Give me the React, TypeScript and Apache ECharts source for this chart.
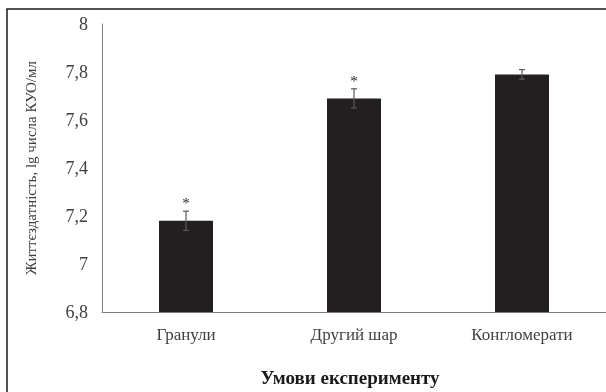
import React, { useEffect, useRef } from "react";
import * as echarts from "echarts";

const categories = ["Гранули", "Другий шар", "Конгломерати"];
const values = [7.18, 7.69, 7.79];
const errors = [0.04, 0.04, 0.02];
const significant = [true, true, false];
const yTicks = [6.8, 7.0, 7.2, 7.4, 7.6, 7.8, 8.0];

const FONT = "serif";

export default function App() {
  const ref = useRef<HTMLDivElement>(null);
  useEffect(() => {
    if (!ref.current) return;
    const chart = echarts.init(ref.current, undefined, { renderer: "svg" });
    const errData = values.map((v, i) => [i, v - errors[i], v + errors[i]]);
    const starData = values
      .map((v, i) => [i, v + errors[i]])
      .filter((_, i) => significant[i]);
    chart.setOption({
      animation: false,
      graphic: [
        {
          type: "rect",
          shape: { x: 7, y: 9, width: 700, height: 500 },
          style: { fill: "none", stroke: "#1a1a1a", lineWidth: 1.5 },
          z: 100,
        },
      ],
      grid: { left: 102, right: -6, top: 24, bottom: 79 },
      xAxis: {
        type: "category",
        data: categories,
        axisLine: { lineStyle: { color: "#7f7f7f", width: 1 } },
        axisTick: { show: false },
        axisLabel: { color: "#404040", fontFamily: FONT, fontSize: 17, margin: 14 },
        name: "Умови експерименту",
        nameLocation: "middle",
        nameGap: 56,
        nameTextStyle: { color: "#1a1a1a", fontFamily: FONT, fontSize: 19, fontWeight: "bold", padding: [0, 0, 0, -8] },
      },
      yAxis: {
        type: "value",
        min: yTicks[0],
        max: yTicks[yTicks.length - 1],
        interval: 0.2,
        axisLine: { show: true, lineStyle: { color: "#7f7f7f", width: 1 } },
        axisTick: { show: false },
        splitLine: { show: false },
        axisLabel: {
          color: "#404040",
          fontFamily: FONT,
          fontSize: 18,
          margin: 14,
          formatter: (v: number) => String(Math.round(v * 10) / 10).replace(".", ","),
        },
        name: "Життєздатність, lg числа КУО/мл",
        nameLocation: "middle",
        nameGap: 64,
        nameRotate: 90,
        nameTextStyle: { color: "#404040", fontFamily: FONT, fontSize: 15 },
      },
      series: [
        {
          type: "bar",
          data: values,
          barWidth: 54,
          itemStyle: { color: "#231f20" },
          z: 2,
        },
        {
          type: "custom",
          data: errData,
          z: 5,
          renderItem: (params: any, api: any) => {
            const x = api.coord([api.value(0), api.value(1)])[0];
            const lo = api.coord([api.value(0), api.value(1)])[1];
            const hi = api.coord([api.value(0), api.value(2)])[1];
            const cap = 3;
            const style = { stroke: "#595959", lineWidth: 1.2 };
            return {
              type: "group",
              children: [
                { type: "line", shape: { x1: x, y1: lo, x2: x, y2: hi }, style },
                { type: "line", shape: { x1: x - cap, y1: hi, x2: x + cap, y2: hi }, style },
                { type: "line", shape: { x1: x - cap, y1: lo, x2: x + cap, y2: lo }, style },
              ],
            };
          },
        },
        {
          type: "custom",
          data: starData,
          z: 5,
          renderItem: (params: any, api: any) => {
            const c = api.coord([api.value(0), api.value(1)]);
            return {
              type: "text",
              x: c[0],
              y: c[1] - 8,
              style: {
                text: "*",
                fill: "#262626",
                fontSize: 15,
                fontFamily: FONT,
                align: "center",
                verticalAlign: "middle",
              },
            };
          },
        },
      ],
    });
    return () => chart.dispose();
  }, []);
  return <div ref={ref} style={{ position: "fixed", left: 0, top: 0, width: 606, height: 392 }} />;
}
